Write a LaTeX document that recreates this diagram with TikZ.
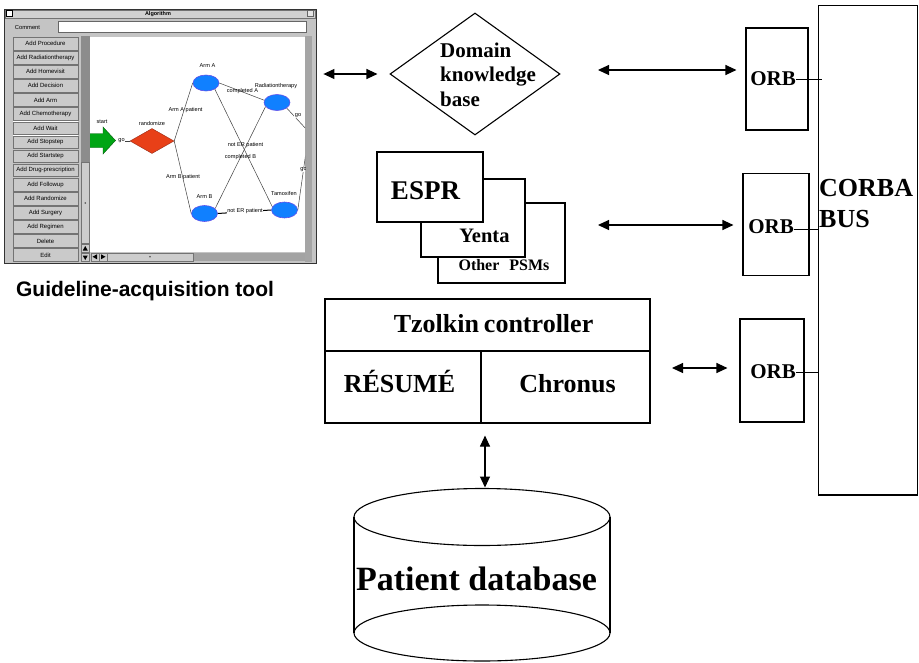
\documentclass[tikz,border=0pt]{standalone}
\usepackage{fontspec}
\setmainfont{Liberation Serif}
\setsansfont{Liberation Sans}
\usetikzlibrary{arrows.meta,shapes.geometric}
\definecolor{wingray}{RGB}{196,196,196}
\definecolor{btngray}{RGB}{202,202,202}
\definecolor{trackgray}{RGB}{140,140,140}
\definecolor{thumbgray}{RGB}{205,205,205}
\definecolor{stripgray}{RGB}{165,165,165}
\definecolor{ovalblue}{RGB}{16,128,255}
\definecolor{ovaledge}{RGB}{96,80,235}
\definecolor{diamondred}{RGB}{232,64,24}
\definecolor{diamondedge}{RGB}{150,40,20}
\definecolor{arrowgreen}{RGB}{0,165,20}
\definecolor{arrowedge}{RGB}{0,90,10}
\begin{document}
\begin{tikzpicture}[x=1pt,y=-1pt,
  mainline/.style={line width=1.1pt},
  blockbox/.style={draw, line width=1.1pt, fill=white, inner sep=0pt},
  biarrow/.style={line width=1.1pt, arrows={Triangle[length=11pt,width=10pt]-Triangle[length=11pt,width=10pt]}},
  serifbold/.style={font=\bfseries\fontsize{#1}{#1}\selectfont, inner sep=0pt, anchor=base},
  btn/.style={draw=black!55, fill=btngray, line width=0.5pt, minimum width=65pt, minimum height=12.6pt, inner sep=0pt, font=\sffamily\fontsize{6}{6}\selectfont,
     path picture={\draw[white, line width=1pt] (path picture bounding box.south west) -- (path picture bounding box.north west) -- (path picture bounding box.north east);}},
  uitext/.style={font=\sffamily\fontsize{5.8}{5.8}\selectfont, inner sep=0pt},
  flabel/.style={font=\sffamily\fontsize{5.6}{5.6}\selectfont, inner sep=0.4pt},
  oval/.style={ellipse, fill=ovalblue, draw=ovaledge, line width=0.6pt, minimum width=26pt, minimum height=16pt, inner sep=0pt},
  flowline/.style={draw=black!75, line width=0.5pt},
  uibtn/.style={fill=thumbgray, draw=black!55, line width=0.4pt, minimum width=8pt, minimum height=8pt, inner sep=0pt},
]
\useasboundingbox (0,0) rectangle (919,662);
\fill[white] (0,0) rectangle (919,662);

% ================= screenshot of the guideline-acquisition tool =================
\node[draw=black!80, fill=wingray, line width=0.8pt, minimum width=312pt, minimum height=253.5pt, inner sep=0pt] (shot) at (160,136.25) {};
\node[fill=black!18, draw=black!55, line width=0.5pt, minimum width=310pt, minimum height=8.5pt, inner sep=0pt] (titlebar) at (160,14) {};
\node[font=\sffamily\bfseries\fontsize{5.5}{5.5}\selectfont, inner sep=0pt] (titletext) at (158,14) {Algorithm};
\node[draw=black, fill=white, line width=0.6pt, minimum width=6pt, minimum height=6pt, inner sep=0pt] (closebox) at (9,13.5) {};
\node[draw=black!60, fill=black!10, line width=0.5pt, minimum width=6pt, minimum height=6pt, inner sep=0pt] (zoombox) at (310,13.5) {};
\node[uitext] (commentlbl) at (27.5,27.5) {Comment};
\node[draw=black!60, fill=white, line width=0.6pt, minimum width=248pt, minimum height=10.5pt, inner sep=0pt] (commentfield) at (182,27) {};

\foreach \lbl [count=\i from 0] in {Add Procedure, Add Radiationtherapy, Add Homevisit, Add Decision, Add Arm, Add Chemotherapy, Add Wait, Add Stopstep, Add Startstep, Add Drug-prescription, Add Followup, Add Randomize, Add Surgery, Add Regimen, Delete, Edit}
  \node[btn] (btn\i) at (45.5,{43.5+14.1*\i}) {\lbl};

% vertical scrollbar
\node[fill=trackgray, minimum width=8.5pt, minimum height=208pt, inner sep=0pt] (vtrack) at (85.25,140) {};
\node[uibtn, minimum height=81pt] (vthumb) at (85.25,203) {};
\fill[black!70] (vthumb.center) circle (0.8pt);
\node[uibtn] (vup) at (85.25,248.5) {};
\node[uibtn] (vdown) at (85.25,257.5) {};
\fill[black] (vup.center) ++(0,-2.5) -- ++(2.5,4.5) -- ++(-5,0) -- cycle;
\fill[black] (vdown.center) ++(0,2.5) -- ++(2.5,-4.5) -- ++(-5,0) -- cycle;
% right strip
\node[fill=stripgray, minimum width=7pt, minimum height=226pt, inner sep=0pt] (rstrip) at (308.5,149) {};
% horizontal scrollbar
\node[fill=trackgray!80, minimum width=198pt, minimum height=8.5pt, inner sep=0pt] (htrack) at (206,256.75) {};
\node[uibtn, minimum width=86pt] (hthumb) at (150,256.75) {};
\fill[black!70] (hthumb.center) circle (0.8pt);
\node[uibtn] (hleft) at (95,256.75) {};
\node[uibtn] (hright) at (103,256.75) {};
\fill[black] (hleft.center) ++(-2.5,0) -- ++(4.5,2.5) -- ++(0,-5) -- cycle;
\fill[black] (hright.center) ++(2.5,0) -- ++(-4.5,2.5) -- ++(0,-5) -- cycle;

% drawing canvas
\node[fill=white, minimum width=215pt, minimum height=215.5pt, inner sep=0pt] (canvas) at (197.5,144.25) {};
\begin{scope}
\clip (90,36.5) rectangle (305,252);
\fill[arrowgreen, draw=arrowedge, line width=0.4pt] (89,133.5) -- (103,133.5) -- (103,127) -- (115.5,140.5) -- (103,154) -- (103,147.5) -- (89,147.5) -- cycle;
\node[flabel] (startlbl) at (102,122) {start};
\node[flabel] (golbl) at (121.5,141) {go};
\node[diamond, fill=diamondred, draw=diamondedge, line width=0.4pt, minimum width=44pt, minimum height=25pt, aspect=1.76, inner sep=0pt] (rand) at (152,141) {};
\node[flabel] (randlbl) at (152,123) {randomize};
\node[oval] (armA) at (206,83) {};
\node[oval] (armB) at (204.5,213.5) {};
\node[oval] (rad) at (277,102.5) {};
\node[oval] (tam) at (284.5,210) {};
\node[flabel] (armAlbl) at (207.5,66) {Arm A};
\node[flabel] (armBlbl) at (204.5,197) {Arm B};
\node[flabel] (radlbl) at (276,86) {Radiationtherapy};
\node[flabel] (tamlbl) at (284,193) {Tamoxifen};
\coordinate (radout) at (308,131);
\coordinate (tamout) at (307,145);

\draw[flowline] (golbl.east) -- (rand.west);
\draw[flowline] (rand.east) -- (armA.west);
\draw[flowline] (rand.east) -- (armB.west);
\draw[flowline] (armA.east) -- (rad.170);
\draw[flowline] (armA.-35) -- (tam.165);
\draw[flowline] (rad.200) -- (armB.25);
\draw[flowline] (rad.-30) -- (radout);
\draw[flowline] (tam.east) -- (tamout);
\draw[line width=1pt] (armB.east) -- (tam.west);

\node[flabel] (armAplbl) at (185.5,110) {Arm A patient};
\node[flabel] (armBplbl) at (183,177) {Arm B patient};
\node[flabel] (compAlbl) at (242.5,91) {completed A};
\node[flabel] (notER1) at (245.5,145) {not ER patient};
\node[flabel] (compBlbl) at (240.5,157) {completed B};
\node[flabel, fill=white] (notER2) at (245,211.5) {not ER patient};
\node[flabel, fill=white] (go2) at (298,116) {go};
\node[flabel, fill=white] (go3) at (303.5,170) {go};
\end{scope}

\node[font=\sffamily\bfseries\fontsize{21}{21}\selectfont, inner sep=0pt, anchor=base] (caption) at (145,296) {Guideline-acquisition tool};

% ================= architecture =================
\node[diamond, draw, line width=1.1pt, minimum width=170pt, minimum height=122pt, aspect=1.39, inner sep=0pt] (dkb) at (475,74) {};
\node[font=\bfseries\fontsize{21}{24.5}\selectfont, align=left, inner sep=0pt, anchor=west] (dkblbl) at (440,74.5) {Domain\\knowledge\\base};

% CORBA bus
\node[blockbox, minimum width=99pt, minimum height=489.5pt] (bus) at (868,250.25) {};
\node[font=\bfseries\fontsize{26}{31}\selectfont, align=left, inner sep=0pt, anchor=west] (buslbl) at (819,204) {CORBA\\BUS};

% ORBs
\node[blockbox, minimum width=62pt, minimum height=102pt] (orb1) at (777,79) {};
\node[blockbox, minimum width=66pt, minimum height=102pt] (orb2) at (776,224.5) {};
\node[blockbox, minimum width=64pt, minimum height=103pt] (orb3) at (772,370.5) {};
\node[serifbold=21] (orb1lbl) at (773,85) {ORB};
\node[serifbold=21] (orb2lbl) at (771,233) {ORB};
\node[serifbold=21] (orb3lbl) at (773,378) {ORB};
\coordinate (o1) at ([yshift=6pt]orb1lbl.base east);
\coordinate (o2) at ([yshift=4pt]orb2lbl.base east);
\coordinate (o3) at ([yshift=6pt]orb3lbl.base east);
\draw[line width=1pt, shorten >=-4pt] (o1) -- (o1 -| bus.west);
\draw[line width=1pt] (o2) -- (o2 -| bus.west);
\draw[line width=1pt] (o3) -- (o3 -| bus.west);

% problem-solving methods stack
\node[blockbox, minimum width=127pt, minimum height=80pt] (psms) at (501.5,243) {};
\node[blockbox, minimum width=104pt, minimum height=78pt] (yenta) at (473,218) {};
\node[blockbox, minimum width=106pt, minimum height=70pt] (espr) at (430,187) {};
\node[serifbold=27] (esprlbl) at (425.5,199) {ESPR};
\node[serifbold=20.5] (yentalbl) at (484.5,242) {Yenta};
\node[serifbold=16] (psmslbl) at (504,270) {Other\hspace{10pt}PSMs};

% Tzolkin
\node[blockbox, minimum width=325pt, minimum height=124pt] (tz) at (487.5,361) {};
\coordinate (tzdiv) at (481,351);
\draw[mainline] (tz.west |- tzdiv) -- (tz.east |- tzdiv);
\draw[mainline] (tzdiv) -- (tzdiv |- tz.south);
\node[serifbold=26] (tzlbl) at (493.5,332) {Tzolkin\hspace{5pt}controller};
\node[serifbold=26] (resumelbl) at (399.5,392) {RÉSUMÉ};
\node[serifbold=26] (chronuslbl) at (567.5,392) {Chronus};

% Patient database cylinder
\draw[mainline] (482,517) ellipse [x radius=128pt, y radius=28.5pt];
\draw[mainline] (354,517) -- (354,633);
\draw[mainline] (610,517) -- (610,633);
\draw[mainline] (482,633) ellipse [x radius=128pt, y radius=28pt];
\coordinate (dbtop) at (485,488.5);
\node[serifbold=34] (db) at (476.5,590) {Patient database};

% connectors
\draw[biarrow, shorten <=7pt, shorten >=12pt] (shot.east |- dkb.west) -- (dkb.west);
\coordinate (a2) at (598,70);
\draw[biarrow, shorten >=9pt] (a2) -- (a2 -| orb1.west);
\coordinate (a3) at (598,225);
\draw[biarrow, shorten >=9pt] (a3) -- (a3 -| orb2.west);
\coordinate (a4) at (672,368);
\draw[biarrow, shorten >=12pt] (a4) -- (a4 -| orb3.west);
\draw[biarrow, shorten <=12pt, shorten >=1pt] (dbtop |- tz.south) -- (dbtop);
\end{tikzpicture}
\end{document}
